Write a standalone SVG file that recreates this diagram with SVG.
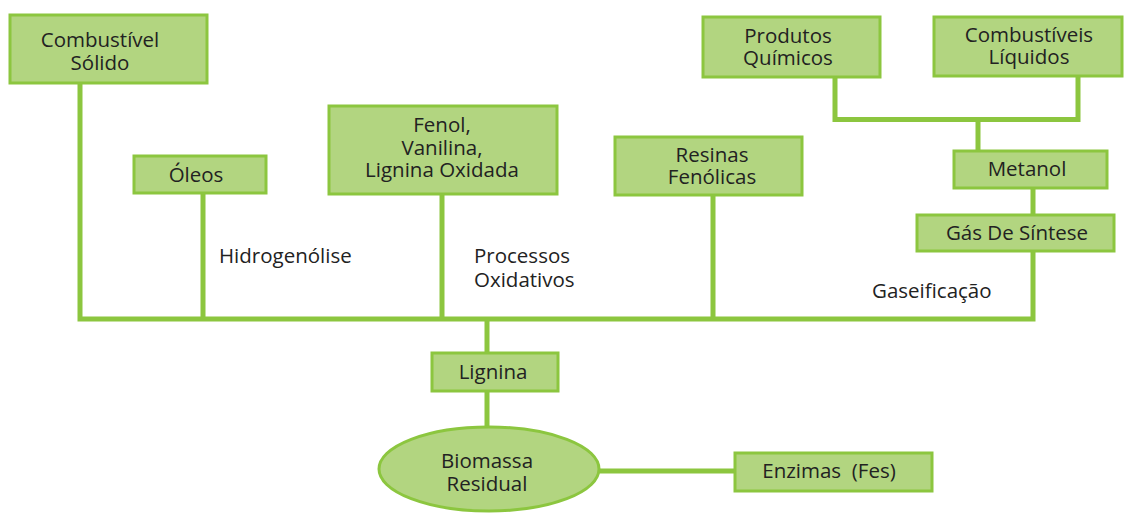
<svg xmlns="http://www.w3.org/2000/svg" width="1125" height="514" viewBox="0 0 1125 514">
<style>
.n{fill:#b2d580;stroke:#8cc63f;stroke-width:3}
.c{fill:none;stroke:#8cc63f;stroke-width:5;stroke-linecap:butt}
text{font-family:"Open Sans","Noto Sans",sans-serif;font-size:20.5px;fill:#222}
.m{text-anchor:middle}
</style>
<rect width="1125" height="514" fill="#fff"/>
<g id="connectors">
<path class="c" d="M80 83V319M203 193V319M442 194V319M713 195V319M1033 251V319M77.5 319H1035.5"/>
<path class="c" d="M487 319V352M487 391V427M600 471H735"/>
<path class="c" d="M1033 188V214M978 150V117M835 78V119.5H1078V77"/>
</g>
<g id="combustivel-solido"><rect class="n" x="10" y="15" width="197" height="68"/><text class="m" x="100" y="47">Combustível</text><text class="m" x="100" y="70">Sólido</text></g>
<g id="oleos"><rect class="n" x="134" y="156" width="132" height="37"/><text class="m" x="196" y="182">Óleos</text></g>
<g id="fenol"><rect class="n" x="329" y="106" width="228" height="88"/><text class="m" x="442" y="132">Fenol,</text><text class="m" x="442" y="155">Vanilina,</text><text class="m" x="442" y="177">Lignina Oxidada</text></g>
<g id="resinas"><rect class="n" x="615" y="137" width="187" height="58"/><text class="m" x="712" y="162">Resinas</text><text class="m" x="712" y="184">Fenólicas</text></g>
<g id="produtos"><rect class="n" x="703" y="17" width="177" height="60"/><text class="m" x="788" y="43">Produtos</text><text class="m" x="788" y="65">Químicos</text></g>
<g id="combustiveis-liquidos"><rect class="n" x="934" y="17" width="188" height="59"/><text class="m" x="1029" y="42">Combustíveis</text><text class="m" x="1029" y="64">Líquidos</text></g>
<g id="metanol"><rect class="n" x="954" y="151" width="153" height="37"/><text class="m" x="1027" y="176">Metanol</text></g>
<g id="gas-sintese"><rect class="n" x="917" y="215" width="197" height="36"/><text class="m" x="1017" y="240">Gás De Síntese</text></g>
<g id="lignina"><rect class="n" x="432" y="353" width="126" height="38"/><text class="m" x="493" y="379">Lignina</text></g>
<g id="biomassa"><ellipse class="n" cx="489" cy="469" rx="110" ry="42"/><text class="m" x="487" y="468">Biomassa</text><text class="m" x="487" y="491">Residual</text></g>
<g id="enzimas"><rect class="n" x="735" y="453" width="197" height="38"/><text class="m" x="829" y="478" style="white-space:pre">Enzimas  (Fes)</text></g>
<g id="labels">
<text x="219" y="263">Hidrogenólise</text>
<text x="474" y="263">Processos</text>
<text x="474" y="287">Oxidativos</text>
<text x="872" y="298">Gaseificação</text>
</g>
</svg>
